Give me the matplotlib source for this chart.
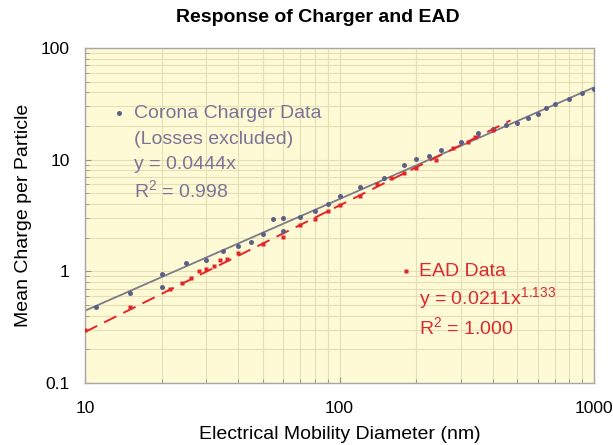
import numpy as np
import matplotlib
matplotlib.use('Agg')
import matplotlib.pyplot as plt
from matplotlib.ticker import LogLocator, FixedFormatter, FixedLocator, NullFormatter
from matplotlib.lines import Line2D

plt.rcParams['font.family'] = ['Liberation Sans', 'DejaVu Sans']
plt.rcParams['mathtext.fontset'] = 'custom'
plt.rcParams['mathtext.rm'] = 'Liberation Sans'
plt.rcParams['mathtext.it'] = 'Liberation Sans:italic'

# Corona charger data (losses excluded)
corona_x = [11, 15, 20, 20, 25, 30, 35, 40, 45, 50, 55, 60, 60, 70, 80, 90, 100,
            120, 150, 180, 200, 225, 250, 300, 350, 400, 450, 500, 550, 600,
            650, 700, 800, 900, 1000]
corona_y = [0.48, 0.64, 0.95, 0.72, 1.19, 1.26, 1.52, 1.69, 1.83, 2.15, 2.92, 3.0,
            2.30, 3.05, 3.47, 3.98, 4.73, 5.66, 6.9, 8.9, 10.1, 10.8, 12.2, 14.5,
            17.2, 18.7, 20.4, 21.2, 23.5, 25.5, 29.2, 31.5, 34.7, 39.8, 42.6]

# EAD data
ead_x = [10, 15, 21.5, 24, 26, 28, 30, 32, 34, 36, 40, 50, 60, 70, 80, 90, 100,
         120, 140, 160, 180, 200, 240, 280, 320, 340, 400]
ead_y = [0.30, 0.48, 0.70, 0.79, 0.88, 1.01, 1.06, 1.12, 1.26, 1.28, 1.45, 1.77,
         2.05, 2.6, 2.96, 3.44, 3.95, 4.75, 6.05, 6.8, 7.64, 8.37, 9.9, 12.6,
         14.5, 16.1, 18.4]

# trendlines as printed on the chart
corona_coef = 0.0444
corona_range = [10, 1000]
ead_coef, ead_exp = 0.0211, 1.133
ead_range = [10, 470]

x_ticks = [10, 100, 1000]
y_ticks = [0.1, 1, 10, 100]
y_tick_labels = ['0.1', '1', '10', '100']

c_pt = '#5c5f86'
c_line = '#7c7c88'
c_txt = '#7d7398'
c_red = '#e2252b'
c_redtxt = '#da2a30'

fig = plt.figure(figsize=(6.13, 4.45), dpi=100)
ax = fig.add_axes([85/613, 1-383/445, 509/613, 335/445])
ax.set_facecolor('#fefad5')

ax.set_xscale('log')
ax.set_yscale('log')
ax.set_xlim(10, 1000)
ax.set_ylim(0.1, 100)

ax.grid(True, which='both', color='#e4dfb5', lw=0.8)
ax.set_axisbelow(True)

cx = np.array(corona_range, dtype=float)
ax.plot(cx, corona_coef * cx, color=c_line, lw=1.3, zorder=2)
ex = np.array(ead_range, dtype=float)
ax.plot(ex, ead_coef * ex ** ead_exp, color=c_red, lw=1.4, ls=(0, (7, 4)), zorder=2)

ax.plot(corona_x, corona_y, 'o', color=c_pt, ms=3.6, mec='none', zorder=3)
ax.plot(ead_x, ead_y, 's', color=c_red, ms=3.0, mec='none', zorder=3)

ax.xaxis.set_major_locator(FixedLocator(x_ticks))
ax.xaxis.set_major_formatter(FixedFormatter([str(v) for v in x_ticks]))
ax.yaxis.set_major_locator(FixedLocator(y_ticks))
ax.yaxis.set_major_formatter(FixedFormatter(y_tick_labels))
ax.xaxis.set_minor_locator(LogLocator(subs=np.arange(2, 10)))
ax.yaxis.set_minor_locator(LogLocator(subs=np.arange(2, 10)))
ax.xaxis.set_minor_formatter(NullFormatter())
ax.yaxis.set_minor_formatter(NullFormatter())
ax.tick_params(which='both', direction='in', color='#909090', labelsize=12.5)
ax.tick_params(which='major', length=4)
ax.tick_params(which='minor', length=3)
ax.tick_params(axis='x', pad=13)
ax.tick_params(axis='y', pad=11)
for s in ax.spines.values():
    s.set_color('#a8a8a8')
    s.set_linewidth(1.0)

ax.set_xlabel('Electrical Mobility Diameter (nm)', fontsize=14, labelpad=7)
ax.set_ylabel('Mean Charge per Particle', fontsize=14, labelpad=6)

fig.text(318/613, 1-18/445, 'Response of Charger and EAD', fontsize=14,
         fontweight='bold', ha='center', va='center')

def fx(px):
    return px / 613

def fy(py):
    return 1 - py / 445

# corona annotation
fig.add_artist(Line2D([fx(119)], [fy(113)], marker='o', ms=3.6, color=c_pt,
                      mec='none', transform=fig.transFigure))
for txt, py in [('Corona Charger Data', 113), ('(Losses excluded)', 139),
                ('y = 0.0444x', 164.5), ('R$^{2}$ = 0.998', 190)]:
    fig.text(fx(134), fy(py), txt, fontsize=14, color=c_txt, ha='left', va='center')

# EAD annotation
fig.add_artist(Line2D([fx(406)], [fy(271)], marker='s', ms=3.2, color=c_red,
                      mec='none', transform=fig.transFigure))
for txt, py in [('EAD Data', 271), ('y = 0.0211x$^{1.133}$', 298),
                ('R$^{2}$ = 1.000', 327)]:
    fig.text(fx(419), fy(py), txt, fontsize=14, color=c_redtxt, ha='left', va='center')

fig.savefig('out.png', dpi=100)
